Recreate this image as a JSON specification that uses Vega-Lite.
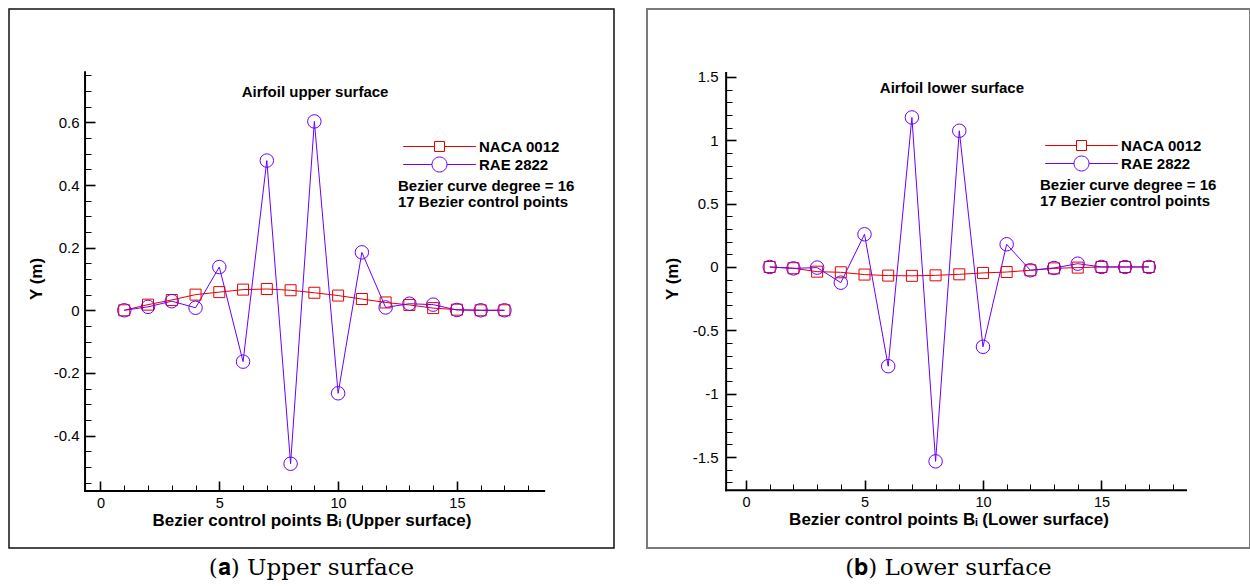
{
"$schema": "https://vega.github.io/schema/vega-lite/v6.json",
"padding": {"left": 8, "top": 8, "right": 0, "bottom": 0},
"background": "white",
"config": {"view": {"stroke": null}},
"spacing": 31,
"resolve": {"scale": {"color": "independent", "shape": "independent"}, "legend": {"color": "independent", "shape": "independent"}},
"datasets": {
"upper": [
{"i":1,"series":"NACA 0012","y":0},{"i":2,"series":"NACA 0012","y":0.018},{"i":3,"series":"NACA 0012","y":0.033},{"i":4,"series":"NACA 0012","y":0.05},{"i":5,"series":"NACA 0012","y":0.058},{"i":6,"series":"NACA 0012","y":0.066},{"i":7,"series":"NACA 0012","y":0.068},{"i":8,"series":"NACA 0012","y":0.064},{"i":9,"series":"NACA 0012","y":0.056},{"i":10,"series":"NACA 0012","y":0.047},{"i":11,"series":"NACA 0012","y":0.036},{"i":12,"series":"NACA 0012","y":0.025},{"i":13,"series":"NACA 0012","y":0.017},{"i":14,"series":"NACA 0012","y":0.007},{"i":15,"series":"NACA 0012","y":0.002},{"i":16,"series":"NACA 0012","y":0},{"i":17,"series":"NACA 0012","y":0},
{"i":1,"series":"RAE 2822","y":0},{"i":2,"series":"RAE 2822","y":0.011},{"i":3,"series":"RAE 2822","y":0.029},{"i":4,"series":"RAE 2822","y":0.008},{"i":5,"series":"RAE 2822","y":0.138},{"i":6,"series":"RAE 2822","y":-0.164},{"i":7,"series":"RAE 2822","y":0.478},{"i":8,"series":"RAE 2822","y":-0.49},{"i":9,"series":"RAE 2822","y":0.603},{"i":10,"series":"RAE 2822","y":-0.265},{"i":11,"series":"RAE 2822","y":0.185},{"i":12,"series":"RAE 2822","y":0.009},{"i":13,"series":"RAE 2822","y":0.021},{"i":14,"series":"RAE 2822","y":0.018},{"i":15,"series":"RAE 2822","y":0.001},{"i":16,"series":"RAE 2822","y":0},{"i":17,"series":"RAE 2822","y":0}
],
"lower": [
{"i":1,"series":"NACA 0012","y":0},{"i":2,"series":"NACA 0012","y":-0.01},{"i":3,"series":"NACA 0012","y":-0.037},{"i":4,"series":"NACA 0012","y":-0.042},{"i":5,"series":"NACA 0012","y":-0.06},{"i":6,"series":"NACA 0012","y":-0.068},{"i":7,"series":"NACA 0012","y":-0.07},{"i":8,"series":"NACA 0012","y":-0.066},{"i":9,"series":"NACA 0012","y":-0.058},{"i":10,"series":"NACA 0012","y":-0.047},{"i":11,"series":"NACA 0012","y":-0.04},{"i":12,"series":"NACA 0012","y":-0.026},{"i":13,"series":"NACA 0012","y":-0.011},{"i":14,"series":"NACA 0012","y":-0.005},{"i":15,"series":"NACA 0012","y":0},{"i":16,"series":"NACA 0012","y":0},{"i":17,"series":"NACA 0012","y":0},
{"i":1,"series":"RAE 2822","y":0},{"i":2,"series":"RAE 2822","y":-0.011},{"i":3,"series":"RAE 2822","y":-0.005},{"i":4,"series":"RAE 2822","y":-0.124},{"i":5,"series":"RAE 2822","y":0.258},{"i":6,"series":"RAE 2822","y":-0.783},{"i":7,"series":"RAE 2822","y":1.18},{"i":8,"series":"RAE 2822","y":-1.534},{"i":9,"series":"RAE 2822","y":1.075},{"i":10,"series":"RAE 2822","y":-0.63},{"i":11,"series":"RAE 2822","y":0.179},{"i":12,"series":"RAE 2822","y":-0.026},{"i":13,"series":"RAE 2822","y":-0.008},{"i":14,"series":"RAE 2822","y":0.026},{"i":15,"series":"RAE 2822","y":0},{"i":16,"series":"RAE 2822","y":0},{"i":17,"series":"RAE 2822","y":0}
]
},
"hconcat": [
{
"data": {"name": "upper"},
"width": 605, "height": 539,
"view": {"stroke": "#111", "strokeWidth": 1.5, "fill": "white"},
"title": {"text": "(𝐚) Upper surface", "orient": "bottom", "anchor": "middle", "frame": "group", "font": "DejaVu Serif", "fontSize": 23, "fontWeight": "normal", "color": "#000", "offset": 9},
"resolve": {"axis": {"x": "independent", "y": "independent"}},
"layer": [
{
"transform": [{"filter": "datum.series === 'NACA 0012'"}],
"mark": {"type": "line", "strokeWidth": 1, "color": "#e60000"},
"encoding": {
"x": {"field": "i", "type": "quantitative", "scale": {"domain": [-3.85, 21.61], "nice": false, "zero": false},
 "axis": {"orient": "bottom", "offset": -57, "values": [0, 5, 10, 15], "domain": false, "grid": false, "tickSize": -10, "tickWidth": 1.6, "tickColor": "#000", "labelExpr": "toString(datum.value)", "labelFont": "Liberation Sans", "labelFontSize": 14.5, "labelColor": "#000", "labelPadding": 15, "labelFlush": false, "labelOverlap": false, "labelBound": false, "title": "Bezier control points Bᵢ (Upper surface)", "titleFont": "Liberation Sans", "titleFontSize": 17, "titleFontWeight": "bold", "titleColor": "#000", "titlePadding": 3}},
"y": {"field": "y", "type": "quantitative", "scale": {"domain": [-0.759, 0.962], "nice": false, "zero": false},
 "axis": {"orient": "left", "offset": -76, "values": [-0.4, -0.2, 0, 0.2, 0.4, 0.6], "domain": false, "grid": false, "tickSize": -10, "tickWidth": 1.6, "tickColor": "#000", "labelExpr": "toString(datum.value)", "labelFont": "Liberation Sans", "labelFontSize": 15, "labelColor": "#000", "labelPadding": 16, "labelFlush": false, "labelOverlap": false, "labelBound": false, "title": "Y (m)", "titleFont": "Liberation Sans", "titleFontSize": 17, "titleFontWeight": "bold", "titleColor": "#000", "titlePadding": 8}}
}
},
{
"transform": [{"filter": "datum.series === 'RAE 2822'"}],
"mark": {"type": "line", "strokeWidth": 1, "color": "#6a00ff"},
"encoding": {
"x": {"field": "i", "type": "quantitative", "axis": null},
"y": {"field": "y", "type": "quantitative", "axis": null}
}
},
{
"transform": [{"filter": "datum.series === 'NACA 0012'"}],
"mark": {"type": "point", "shape": "square", "size": 121, "filled": false, "strokeWidth": 1, "opacity": 1, "color": "#e60000"},
"encoding": {
"x": {"field": "i", "type": "quantitative", "axis": null},
"y": {"field": "y", "type": "quantitative", "axis": null}
}
},
{
"transform": [{"filter": "datum.series === 'RAE 2822'"}],
"mark": {"type": "point", "shape": "circle", "size": 182, "filled": false, "strokeWidth": 1, "opacity": 1, "color": "#6a00ff"},
"encoding": {
"x": {"field": "i", "type": "quantitative", "axis": null},
"y": {"field": "y", "type": "quantitative", "axis": null}
}
},
{
"transform": [{"filter": "false"}],
"mark": {"type": "point", "filled": false, "strokeWidth": 1, "opacity": 1},
"encoding": {
"color": {"field": "series", "type": "nominal", "scale": {"domain": ["NACA 0012", "RAE 2822"], "range": ["#e60000", "#6a00ff"]},
 "legend": {"orient": "none", "legendX": 389, "legendY": 130, "direction": "vertical", "title": ["Bezier curve degree = 16", "17 Bezier control points"], "titleOrient": "bottom", "titleAnchor": "start", "titleAlign": "left", "titleFont": "Liberation Sans", "titleFontSize": 15, "titleFontWeight": "bold", "titleColor": "#000", "titleLineHeight": 16, "titlePadding": 5, "labelFont": "Liberation Sans", "labelFontSize": 15, "labelFontWeight": "bold", "labelColor": "#000", "symbolSize": 100, "symbolOffset": 34, "labelOffset": 32, "rowPadding": 0, "padding": 0, "symbolStrokeWidth": 1, "symbolFillColor": "transparent"}},
"shape": {"field": "series", "type": "nominal", "scale": {"domain": ["NACA 0012", "RAE 2822"], "range": ["M-7.26,0H-1M1,0H7.26M-1,-1H1V1H-1Z", "M-7.26,0H-1.5M1.5,0H7.26M1.5,0A1.5,1.5,0,1,1,-1.5,0A1.5,1.5,0,1,1,1.5,0"]},
 "legend": {"orient": "none", "legendX": 389, "legendY": 130, "direction": "vertical", "title": ["Bezier curve degree = 16", "17 Bezier control points"], "titleOrient": "bottom", "titleAnchor": "start", "titleAlign": "left", "titleFont": "Liberation Sans", "titleFontSize": 15, "titleFontWeight": "bold", "titleColor": "#000", "titleLineHeight": 16, "titlePadding": 5, "labelFont": "Liberation Sans", "labelFontSize": 15, "labelFontWeight": "bold", "labelColor": "#000", "symbolSize": 100, "symbolOffset": 34, "labelOffset": 32, "rowPadding": 0, "padding": 0, "symbolStrokeWidth": 1, "symbolFillColor": "transparent"}}
}
},
{
"data": {"values": [{}]},
"mark": {"type": "text", "text": "Airfoil upper surface", "font": "Liberation Sans", "fontSize": 15, "fontWeight": "bold", "color": "#000", "align": "center", "baseline": "alphabetic"},
"encoding": {
"x": {"datum": 9.03, "type": "quantitative", "axis": null},
"y": {"datum": 0.682, "type": "quantitative", "axis": null}
}
},
{
"data": {"values": [{}]},
"mark": {"type": "rule", "strokeWidth": 2, "color": "#000", "strokeCap": "square"},
"encoding": {
"x": {"datum": -0.65, "type": "quantitative", "axis": {"orient": "bottom", "offset": -57, "values": [1,2,3,4,6,7,8,9,11,12,13,14,16,17,18], "domain": false, "grid": false, "labels": false, "title": null, "tickSize": -6, "tickWidth": 1, "tickColor": "#000"}},
"y": {"datum": -0.577, "type": "quantitative", "axis": {"orient": "left", "offset": -76, "values": [-0.55,-0.5,-0.45,-0.35,-0.3,-0.25,-0.15,-0.1,-0.05,0.05,0.1,0.15,0.25,0.3,0.35,0.45,0.5,0.55,0.65,0.7,0.75], "domain": false, "grid": false, "labels": false, "title": null, "tickSize": -6, "tickWidth": 1, "tickColor": "#000"}},
"y2": {"datum": 0.76}
}
},
{
"data": {"values": [{}]},
"mark": {"type": "rule", "strokeWidth": 2, "color": "#000", "strokeCap": "square"},
"encoding": {
"x": {"datum": -0.65, "type": "quantitative", "axis": null},
"x2": {"datum": 18.67},
"y": {"datum": -0.577, "type": "quantitative", "axis": null}
}
}
]
},
{
"data": {"name": "lower"},
"width": 603, "height": 539,
"view": {"stroke": "#7a7a7a", "strokeWidth": 2, "fill": "white"},
"title": {"text": "(𝐛) Lower surface", "orient": "bottom", "anchor": "middle", "frame": "group", "font": "DejaVu Serif", "fontSize": 23, "fontWeight": "normal", "color": "#000", "offset": 9},
"resolve": {"axis": {"x": "independent", "y": "independent"}},
"layer": [
{
"transform": [{"filter": "datum.series === 'NACA 0012'"}],
"mark": {"type": "line", "strokeWidth": 1, "color": "#e60000"},
"encoding": {
"x": {"field": "i", "type": "quantitative", "scale": {"domain": [-4.18, 21.27], "nice": false, "zero": false},
 "axis": {"orient": "bottom", "offset": -58, "values": [0, 5, 10, 15], "domain": false, "grid": false, "tickSize": -10, "tickWidth": 1.6, "tickColor": "#000", "labelExpr": "toString(datum.value)", "labelFont": "Liberation Sans", "labelFontSize": 14.5, "labelColor": "#000", "labelPadding": 15, "labelFlush": false, "labelOverlap": false, "labelBound": false, "title": "Bezier control points Bᵢ (Lower surface)", "titleFont": "Liberation Sans", "titleFontSize": 17, "titleFontWeight": "bold", "titleColor": "#000", "titlePadding": 3}},
"y": {"field": "y", "type": "quantitative", "scale": {"domain": [-2.218, 2.036], "nice": false, "zero": false},
 "axis": {"orient": "left", "offset": -79, "values": [-1.5, -1, -0.5, 0, 0.5, 1, 1.5], "domain": false, "grid": false, "tickSize": -10, "tickWidth": 1.6, "tickColor": "#000", "labelExpr": "toString(datum.value)", "labelFont": "Liberation Sans", "labelFontSize": 15, "labelColor": "#000", "labelPadding": 18, "labelFlush": false, "labelOverlap": false, "labelBound": false, "title": "Y (m)", "titleFont": "Liberation Sans", "titleFontSize": 17, "titleFontWeight": "bold", "titleColor": "#000", "titlePadding": 11}}
}
},
{
"transform": [{"filter": "datum.series === 'RAE 2822'"}],
"mark": {"type": "line", "strokeWidth": 1, "color": "#6a00ff"},
"encoding": {
"x": {"field": "i", "type": "quantitative", "axis": null},
"y": {"field": "y", "type": "quantitative", "axis": null}
}
},
{
"transform": [{"filter": "datum.series === 'NACA 0012'"}],
"mark": {"type": "point", "shape": "square", "size": 121, "filled": false, "strokeWidth": 1, "opacity": 1, "color": "#e60000"},
"encoding": {
"x": {"field": "i", "type": "quantitative", "axis": null},
"y": {"field": "y", "type": "quantitative", "axis": null}
}
},
{
"transform": [{"filter": "datum.series === 'RAE 2822'"}],
"mark": {"type": "point", "shape": "circle", "size": 182, "filled": false, "strokeWidth": 1, "opacity": 1, "color": "#6a00ff"},
"encoding": {
"x": {"field": "i", "type": "quantitative", "axis": null},
"y": {"field": "y", "type": "quantitative", "axis": null}
}
},
{
"transform": [{"filter": "false"}],
"mark": {"type": "point", "filled": false, "strokeWidth": 1, "opacity": 1},
"encoding": {
"color": {"field": "series", "type": "nominal", "scale": {"domain": ["NACA 0012", "RAE 2822"], "range": ["#e60000", "#6a00ff"]},
 "legend": {"orient": "none", "legendX": 393, "legendY": 129, "direction": "vertical", "title": ["Bezier curve degree = 16", "17 Bezier control points"], "titleOrient": "bottom", "titleAnchor": "start", "titleAlign": "left", "titleFont": "Liberation Sans", "titleFontSize": 15, "titleFontWeight": "bold", "titleColor": "#000", "titleLineHeight": 16, "titlePadding": 5, "labelFont": "Liberation Sans", "labelFontSize": 15, "labelFontWeight": "bold", "labelColor": "#000", "symbolSize": 100, "symbolOffset": 34, "labelOffset": 32, "rowPadding": 0, "padding": 0, "symbolStrokeWidth": 1, "symbolFillColor": "transparent"}},
"shape": {"field": "series", "type": "nominal", "scale": {"domain": ["NACA 0012", "RAE 2822"], "range": ["M-7.26,0H-1M1,0H7.26M-1,-1H1V1H-1Z", "M-7.26,0H-1.5M1.5,0H7.26M1.5,0A1.5,1.5,0,1,1,-1.5,0A1.5,1.5,0,1,1,1.5,0"]},
 "legend": {"orient": "none", "legendX": 393, "legendY": 129, "direction": "vertical", "title": ["Bezier curve degree = 16", "17 Bezier control points"], "titleOrient": "bottom", "titleAnchor": "start", "titleAlign": "left", "titleFont": "Liberation Sans", "titleFontSize": 15, "titleFontWeight": "bold", "titleColor": "#000", "titleLineHeight": 16, "titlePadding": 5, "labelFont": "Liberation Sans", "labelFontSize": 15, "labelFontWeight": "bold", "labelColor": "#000", "symbolSize": 100, "symbolOffset": 34, "labelOffset": 32, "rowPadding": 0, "padding": 0, "symbolStrokeWidth": 1, "symbolFillColor": "transparent"}}
}
},
{
"data": {"values": [{}]},
"mark": {"type": "text", "text": "Airfoil lower surface", "font": "Liberation Sans", "fontSize": 15, "fontWeight": "bold", "color": "#000", "align": "center", "baseline": "alphabetic"},
"encoding": {
"x": {"datum": 8.69, "type": "quantitative", "axis": null},
"y": {"datum": 1.373, "type": "quantitative", "axis": null}
}
},
{
"data": {"values": [{}]},
"mark": {"type": "rule", "strokeWidth": 2, "color": "#000", "strokeCap": "square"},
"encoding": {
"x": {"datum": -0.84, "type": "quantitative", "axis": {"orient": "bottom", "offset": -58, "values": [1,2,3,4,6,7,8,9,11,12,13,14,16,17,18], "domain": false, "grid": false, "labels": false, "title": null, "tickSize": -6, "tickWidth": 1, "tickColor": "#000"}},
"y": {"datum": -1.763, "type": "quantitative", "axis": {"orient": "left", "offset": -79, "values": [-1.7,-1.6,-1.4,-1.3,-1.2,-1.1,-0.9,-0.8,-0.7,-0.6,-0.4,-0.3,-0.2,-0.1,0.1,0.2,0.3,0.4,0.6,0.7,0.8,0.9,1.1,1.2,1.3,1.4], "domain": false, "grid": false, "labels": false, "title": null, "tickSize": -6, "tickWidth": 1, "tickColor": "#000"}},
"y2": {"datum": 1.53}
}
},
{
"data": {"values": [{}]},
"mark": {"type": "rule", "strokeWidth": 2, "color": "#000", "strokeCap": "square"},
"encoding": {
"x": {"datum": -0.84, "type": "quantitative", "axis": null},
"x2": {"datum": 18.57},
"y": {"datum": -1.763, "type": "quantitative", "axis": null}
}
}
]
}
]
}
